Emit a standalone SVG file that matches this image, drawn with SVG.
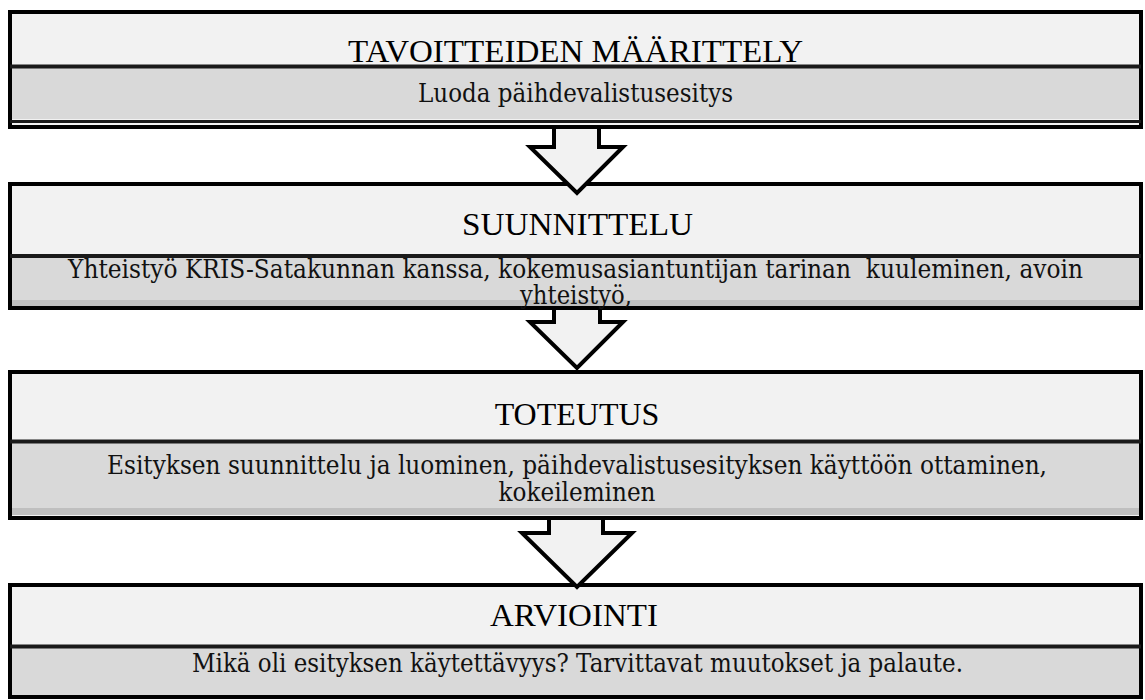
<svg xmlns="http://www.w3.org/2000/svg" width="1145" height="700" viewBox="0 0 1145 700">
  <style>
    .outer { fill: #f2f2f2; stroke: #000; stroke-width: 4; }
    .band { fill: #d9d9d9; stroke: none; }
    .strip { fill: #bfbfbf; stroke: none; }
    .sep { stroke: #1a1a1a; stroke-width: 4; fill: none; }
    .title { font-family: 'Liberation Serif', serif; font-size: 32px; fill: #000; text-anchor: middle; }
    .txt { font-family: 'DejaVu Serif', 'Liberation Serif', serif; font-size: 26px; fill: #111; text-anchor: middle; }
    .arrow { fill: #f2f2f2; stroke: #000; stroke-width: 4; stroke-linejoin: miter; }
  </style>
  <rect width="1145" height="700" fill="#ffffff"/>

  <g id="node-tavoitteet">
    <rect class="outer" x="10" y="12" width="1131" height="115"/>
    <rect class="band" x="12" y="68" width="1127" height="51"/>
    <line class="sep" x1="10" y1="66.5" x2="1141" y2="66.5"/>
    <line class="sep" x1="10" y1="121.5" x2="1141" y2="121.5" style="stroke-width:3"/>
    <text class="title" x="575.5" y="62" textLength="455" lengthAdjust="spacingAndGlyphs">TAVOITTEIDEN MÄÄRITTELY</text>
    <text class="txt" x="575.5" y="102" textLength="315" lengthAdjust="spacingAndGlyphs">Luoda päihdevalistusesitys</text>
  </g>

  <g id="node-suunnittelu">
    <rect class="outer" x="10" y="184" width="1131" height="124"/>
    <rect class="band" x="12" y="258" width="1127" height="43"/>
    <rect class="strip" x="12" y="300" width="1127" height="6"/>
    <line class="sep" x1="10" y1="256" x2="1141" y2="256"/>
    <text class="title" x="577.5" y="235" textLength="231" lengthAdjust="spacingAndGlyphs">SUUNNITTELU</text>
    <text class="txt" xml:space="preserve" x="575.5" y="278" textLength="1015" lengthAdjust="spacingAndGlyphs">Yhteistyö KRIS-Satakunnan kanssa, kokemusasiantuntijan tarinan  kuuleminen, avoin</text>
    <text class="txt" x="576" y="304" textLength="112" lengthAdjust="spacingAndGlyphs">yhteistyö,</text>
  </g>

  <g id="node-toteutus">
    <rect class="outer" x="10" y="372" width="1131" height="146"/>
    <rect class="band" x="12" y="443" width="1127" height="66"/>
    <rect class="strip" x="12" y="508" width="1127" height="7"/>
    <line class="sep" x1="10" y1="441.5" x2="1141" y2="441.5"/>
    <text class="title" x="577" y="425">TOTEUTUS</text>
    <text class="txt" x="577" y="474" textLength="940" lengthAdjust="spacingAndGlyphs">Esityksen suunnittelu ja luominen, päihdevalistusesityksen käyttöön ottaminen,</text>
    <text class="txt" x="577" y="501" textLength="157" lengthAdjust="spacingAndGlyphs">kokeileminen</text>
  </g>

  <g id="node-arviointi">
    <rect class="outer" x="10" y="585" width="1131" height="112"/>
    <rect class="band" x="12" y="648" width="1127" height="47"/>
    <line class="sep" x1="10" y1="646.5" x2="1141" y2="646.5"/>
    <text class="title" x="574" y="626" textLength="168" lengthAdjust="spacingAndGlyphs">ARVIOINTI</text>
    <text class="txt" x="577.5" y="672" textLength="771" lengthAdjust="spacingAndGlyphs">Mikä oli esityksen käytettävyys? Tarvittavat muutokset ja palaute.</text>
  </g>

  <g id="connectors">
    <path class="arrow" d="M554,129 V147 H530 L577,193 L623,147 H599 V129"/>
    <path class="arrow" d="M554,310 V322 H530 L577,368 L623,322 H600 V310"/>
    <path class="arrow" d="M549,520 V533 H522 L577,587 L632,533 H603 V520"/>
  </g>
</svg>
